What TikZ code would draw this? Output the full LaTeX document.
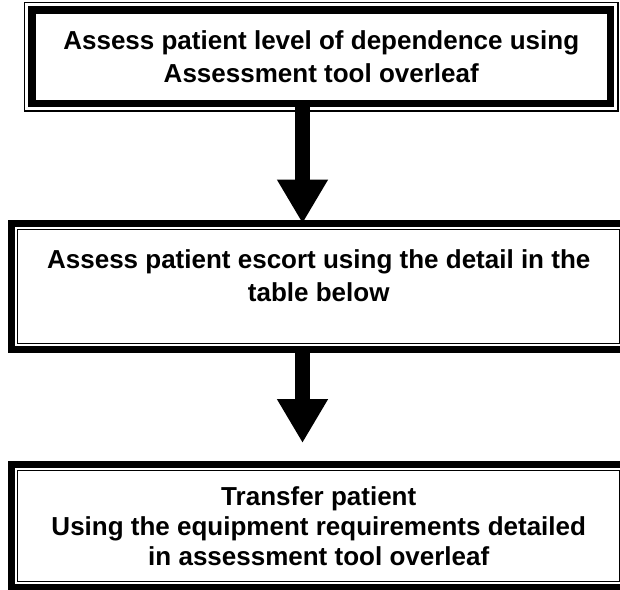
\documentclass[tikz,border=0pt]{standalone}
\usepackage{fontspec}
\setmainfont{Liberation Sans}
\usetikzlibrary{arrows.meta}
\begin{document}
\begin{tikzpicture}[x=1pt, y=-1pt,
  stepbox/.style={draw, line width=7pt, outer sep=0pt, inner sep=0pt, align=center,
    font=\bfseries\fontsize{26}{33}\selectfont},
  innerline/.style={line width=1.2pt},
  flow/.style={line width=15pt, -{Triangle[width=48pt, length=44pt]}}]
  \useasboundingbox (0,0) rectangle (620,589);
  \clip (0,0) rectangle (620,589);
  \node[stepbox, line width=7.5pt, minimum width=578.5pt, minimum height=93.5pt] (dependence) at (321.25,56.75)
    {Assess patient level of dependence using\\Assessment tool overleaf};
  \node[stepbox, minimum width=614.5pt, minimum height=126pt, text depth=22pt] (escort) at (318.75,286.5)
    {Assess patient escort using the detail in the\\table below};
  \node[stepbox, minimum width=614.5pt, minimum height=123pt, font=\bfseries\fontsize{26}{30}\selectfont] (transfer) at (318.75,526)
    {Transfer patient\\Using the equipment requirements detailed\\in assessment tool overleaf};
  % second, thinner frame line
  \foreach \b/\d/\e in {dependence/-7.5/7.5, escort/6/-6, transfer/6/-6}
    \draw[innerline] ([shift={(\d,\d)}]\b.north west) rectangle ([shift={(\e,\e)}]\b.south east);
  \coordinate (spine) at (302.5,0);
  \draw[flow] (dependence.south -| spine) -- (escort.north -| spine);
  \draw[flow, shorten >=21.5pt] (escort.south -| spine) -- (transfer.north -| spine);
\end{tikzpicture}
\end{document}
